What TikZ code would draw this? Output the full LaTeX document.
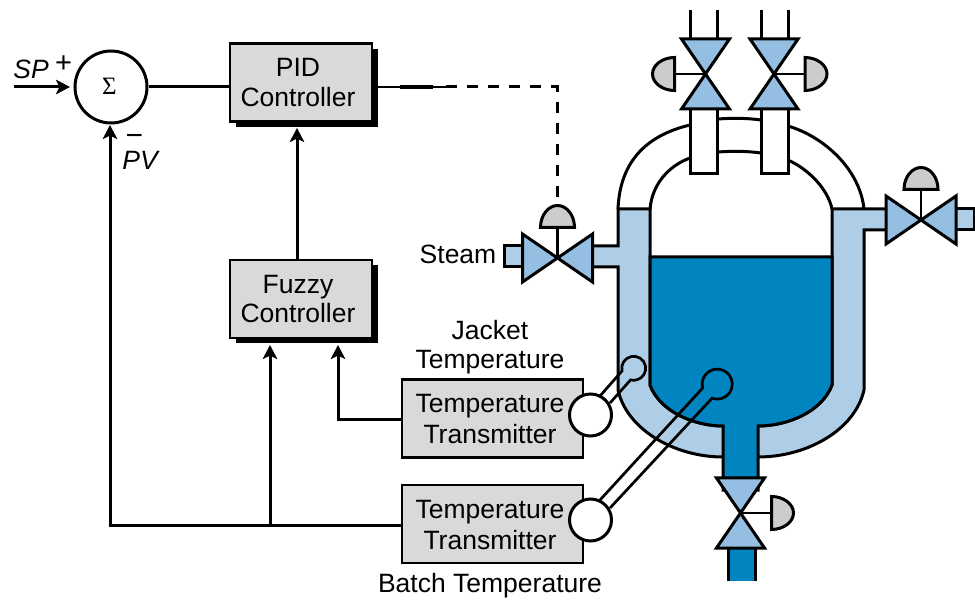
\documentclass[tikz,border=0pt]{standalone}
\usepackage{fontspec}
\setmainfont{Liberation Sans}
\newfontfamily\sigmafont{Liberation Serif}
\usetikzlibrary{arrows.meta,shadows}
\definecolor{jacketblue}{HTML}{AECDE6}
\definecolor{batchblue}{HTML}{0085C1}
\definecolor{valveblue}{HTML}{94BFE3}
\definecolor{domegray}{HTML}{CCCCCC}
\definecolor{boxgray}{HTML}{D9D9D9}
\begin{document}
\begin{tikzpicture}[x=1pt, y=-1pt, line join=miter, line width=3pt,
    every node/.style={font=\fontsize{26.5}{29.5}\selectfont, align=center},
    blockbox/.style={draw, line width=2.6pt, fill=boxgray, minimum width=142pt, minimum height=78pt, inner sep=0pt,
      drop shadow={shadow xshift=5.5pt, shadow yshift=-5.5pt, fill=black, opacity=1}},
    ttbox/.style={draw, line width=2.6pt, fill=boxgray, minimum width=181pt, minimum height=78pt, inner sep=0pt},
    blocktext/.style={inner sep=0pt},
    tttext/.style={inner sep=0pt, font=\fontsize{26.5}{31}\selectfont},
    bulb/.style={draw, fill=white, circle, minimum size=42pt, inner sep=0pt},
    valve/.style={draw, fill=valveblue},
    dome/.style={draw, fill=domegray},
    sig/.style={-{Stealth[length=14pt,width=14.5pt,inset=3.5pt]}}]
    \useasboundingbox (0,0) rectangle (975,601);
    % feed pipes and nozzles
    \foreach \x in {690.5,761} {
      \draw (\x,10) -- (\x,40);
      \draw (\x+27,10) -- (\x+27,40);
    }
    \draw (618,209) .. controls (620,160) and (648,135) .. (690,125);
    \draw (650,209) .. controls (652,185) and (668,166) .. (690,158);
    \draw (718,119) .. controls (732,118) and (747,118) .. (761,120);
    \draw (718,152) .. controls (732,151) and (747,151) .. (761,153);
    \draw (788,126) .. controls (825,137) and (860,170) .. (864,209);
    \draw (788,160) .. controls (810,170) and (828,190) .. (832,209);
    \foreach \x in {690.5,761}
      \draw[fill=white] (\x,105) rectangle (\x+27,173.5);
    % jacket
    \draw[fill=jacketblue] (650,209) -- (618,209) -- (618,246) -- (585,246) -- (585,267) -- (618,267) -- (618,390)
      .. controls (627,430) and (675,457) .. (723,457) -- (758,457)
      .. controls (807,457) and (855,430) .. (864,390) -- (864,230) -- (895,230)
      -- (895,209) -- (832,209) -- (832,385) .. controls (822,412) and (787,426) .. (758,426)
      -- (723,426) .. controls (695,426) and (660,412) .. (650,385) -- cycle;
    \draw[fill=jacketblue] (950,209) rectangle (974,230);
    \draw[fill=jacketblue] (504,246) rectangle (530,267);
    % batch
    \draw[fill=batchblue] (650,257) -- (832,257) -- (832,385) .. controls (822,412) and (787,426) .. (758,426)
      -- (758,490) -- (723,490) -- (723,426) .. controls (695,426) and (660,412) .. (650,385) -- cycle;
    \fill[batchblue] (728,540) rectangle (755,581);
    \draw (728,540) -- (728,581) (755,540) -- (755,581);
    % valves and actuators
    \foreach \x/\y in {705.5/74,774/74,740.5/513}
      \draw[valve] (\x-24,\y-35) -- (\x+24,\y-35) -- (\x-24,\y+35) -- (\x+24,\y+35) -- cycle;
    \foreach \x/\y in {921/220,557.5/258}
      \draw[valve] (\x-35,\y-24) -- (\x+35,\y+24) -- (\x+35,\y-24) -- (\x-35,\y+24) -- cycle;
    \foreach \x/\y/\s in {705.5/74/-1,774/74/1,740.5/513/1} {
      \draw[line width=2.5pt] (\x,\y) -- (\x+\s*31,\y);
      \draw[dome] (\x+\s*31,\y-16.5) .. controls (\x+\s*43,\y-16.5) and (\x+\s*53,\y-9) .. (\x+\s*53,\y)
        .. controls (\x+\s*53,\y+9) and (\x+\s*43,\y+16.5) .. (\x+\s*31,\y+16.5) -- cycle;
    }
    \foreach \x/\y in {921/220,557.5/258} {
      \draw[line width=2.5pt] (\x,\y) -- (\x,\y-30.5);
      \draw[dome] (\x-17,\y-30.5) .. controls (\x-17,\y-43) and (\x-9,\y-52.5) .. (\x,\y-52.5)
        .. controls (\x+9,\y-52.5) and (\x+17,\y-43) .. (\x+17,\y-30.5) -- cycle;
    }
    % sensors
    \coordinate (jacketA) at (600,396);
    \coordinate (jacketB) at (610,403);
    \coordinate (batchA) at (600,500);
    \coordinate (batchB) at (610,508);
    \draw[line width=2.7pt] (jacketA) -- (622,371) arc[start angle=167, end angle=465, radius=12] -- (jacketB);
    \draw[line width=2.7pt] (batchA) -- (702.7,388) arc[start angle=165, end angle=470, radius=15] -- (batchB);
    % blocks
    \node[draw, fill=white, circle, minimum size=72pt, inner sep=0pt] (sum) at (111,87) {};
    \node[inner sep=0pt, font=\fontsize{25}{25}\sigmafont] (sumtext) at (109.5,86) {Σ};
    \node[blockbox] (pid) at (301,82.5) {};
    \node[blocktext] (pidtext) at (298,82.5) {PID\\Controller};
    \node[blockbox] (fuzzy) at (301,299) {};
    \node[blocktext] (fuzzytext) at (298,299) {Fuzzy\\Controller};
    \node[ttbox] (jackettt) at (492.5,418.5) {};
    \node[tttext] (jackettext) at (490,419) {Temperature\\Transmitter};
    \node[ttbox] (batchtt) at (492.5,524) {};
    \node[tttext] (batchtext) at (490,525) {Temperature\\Transmitter};
    \node[bulb] (jacketbulb) at (590.5,415) {};
    \node[bulb] (batchbulb) at (590.5,520) {};
    % labels
    \node[blocktext] (steamlabel) at (458,254.5) {Steam};
    \node[blocktext] (jacketlabel) at (490,347) {Jacket\\Temperature};
    \node[blocktext] (batchlabel) at (490,586) {Batch Temperature};
    \node[blocktext] (splabel) at (31,69) {\itshape SP};
    \node[blocktext, font=\fontsize{29}{29}\selectfont] (plus) at (63.5,64) {+};
    \node[blocktext, font=\fontsize{30}{30}\selectfont] (minus) at (134.5,140) {\textminus};
    \node[blocktext] (pvlabel) at (140,160) {\itshape PV};
    % signals
    \coordinate (spstart) at (14,87);
    \coordinate (spend) at (70,87);
    \coordinate (pvend) at (110,125);
    \coordinate (pidend) at (297,128);
    \coordinate (fuzzyA) at (270,345);
    \coordinate (fuzzyB) at (338,345);
    \coordinate (tap) at (270,525);
    \coordinate (bend) at (110,525);
    \coordinate (jacketbend) at (338,420);
    \coordinate (pidout) at (377,87);
    \coordinate (thickstart) at (400,87);
    \coordinate (thickend) at (433,87);
    \coordinate (dashstart) at (446,87);
    \coordinate (dashbend) at (557,87);
    \coordinate (dashend) at (557,197);
    \draw[sig] (spstart) -- (spend);
    \draw (sum) -- (sum -| pid.west);
    \draw[sig] (batchtt.west |- tap) -- (bend) -- (pvend);
    \draw[sig] (tap) -- (fuzzyA);
    \draw[sig] (jackettt.west |- jacketbend) -- (jacketbend) -- (fuzzyB);
    \draw[sig] (pidend |- fuzzy.north) -- (pidend);
    \draw[line width=2.4pt] (pidout) -- (dashstart);
    \draw[line width=3.4pt] (thickstart) -- (thickend);
    \draw[dash pattern=on 11pt off 10pt] (dashstart) -- (dashbend) -- (dashend);
\end{tikzpicture}
\end{document}
